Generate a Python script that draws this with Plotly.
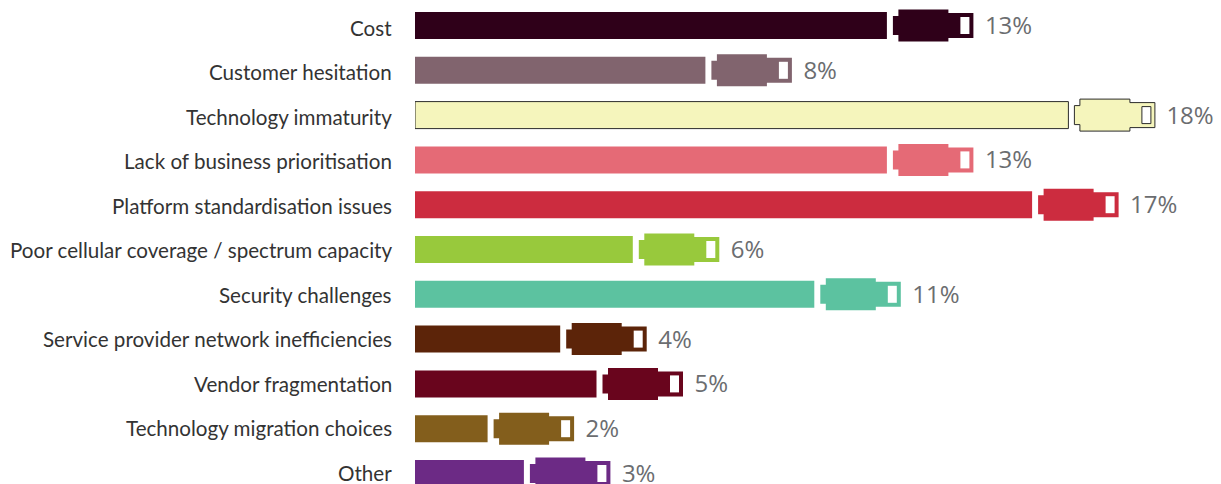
import plotly.graph_objects as go

categories = [
    "Cost", "Customer hesitation", "Technology immaturity",
    "Lack of business prioritisation", "Platform standardisation issues",
    "Poor cellular coverage / spectrum capacity", "Security challenges",
    "Service provider network inefficiencies", "Vendor fragmentation",
    "Technology migration choices", "Other",
]
values = [13, 8, 18, 13, 17, 6, 11, 4, 5, 2, 3]
colors = [
    "#2f0019", "#81646e", "#f5f5bc", "#e56a76", "#cc2c3f", "#98c93c",
    "#5cc2a0", "#5c2409", "#69051d", "#835e1c", "#6c2a85",
]
outlines = [None, None, "#2b2b2b", None, None, None, None, None, None, None, None]

W, H = 1221, 484
LEFT = 415
PX_PER_UNIT = 36.3     # horizontal pixels per percentage point
ROW = 44.8             # vertical pixels per row
TOP_ROW = 25.5         # centre of the first row
BAR_H = 27


def ux(px):
    return px / PX_PER_UNIT


def uy(px):
    return px / ROW


# Connector silhouette, in pixels relative to the end of the bar and the row centre
PLUG = [(6, -9.5), (11.5, -9.5), (11.5, -16), (61.5, -16), (61.5, -12.5), (86.5, -12.5),
        (86.5, 12.5), (61.5, 12.5), (61.5, 16), (11.5, 16), (11.5, 9.5), (6, 9.5), (6, -9.5)]
WINDOW = [(73.5, -8.5), (82.5, -8.5), (82.5, 8.5), (73.5, 8.5), (73.5, -8.5)]

fig = go.Figure()
rows = list(range(len(categories)))

fig.add_trace(go.Bar(
    x=values, y=rows, orientation="h", width=uy(BAR_H),
    marker=dict(color=colors,
                line=dict(color=[o or c for o, c in zip(outlines, colors)],
                          width=[1 if o else 0 for o in outlines])),
    hoverinfo="skip", showlegend=False,
))

for i, (v, c, o) in enumerate(zip(values, colors, outlines)):
    fig.add_trace(go.Scatter(
        x=[v + ux(p[0]) for p in PLUG], y=[i + uy(p[1]) for p in PLUG],
        mode="lines", fill="toself", fillcolor=c,
        line=dict(color=o or c, width=1 if o else 0),
        hoverinfo="skip", showlegend=False,
    ))
    fig.add_trace(go.Scatter(
        x=[v + ux(p[0]) for p in WINDOW], y=[i + uy(p[1]) for p in WINDOW],
        mode="lines", fill="toself", fillcolor="#ffffff",
        line=dict(color=o or "#ffffff", width=1 if o else 0),
        hoverinfo="skip", showlegend=False,
    ))

# Percentage labels sit just past the connector, slightly below the row centre
fig.add_trace(go.Scatter(
    x=[v + ux(98) for v in values], y=[i + uy(2.5) for i in rows], mode="text",
    text=[f"{v}%" for v in values], textposition="middle right",
    textfont=dict(family="Open Sans", size=24, color="#6b6d70"),
    hoverinfo="skip", showlegend=False, cliponaxis=False,
))

# Row names are annotations so the last one is kept at the lower page edge;
# their spacing is a touch tighter than the bars' spacing
for i, name in enumerate(categories):
    fig.add_annotation(
        x=0, y=i + uy(2.2 - 0.3 * i), xref="x", yref="y", xanchor="right", yanchor="middle",
        xshift=-22, text=name, showarrow=False, borderpad=0,
        font=dict(family="Lato", size=20.6, color="#333333"),
    )

fig.update_layout(
    width=W, height=H, margin=dict(l=LEFT, r=0, t=0, b=0),
    paper_bgcolor="#ffffff", plot_bgcolor="#ffffff",
    xaxis=dict(range=[0, (W - LEFT) / PX_PER_UNIT], visible=False),
    yaxis=dict(
        range=[(H - TOP_ROW) / ROW, -TOP_ROW / ROW],
        visible=False,
    ),
    font=dict(family="Lato"),
)

fig.write_html("out.html", config=dict(displayModeBar=False))
